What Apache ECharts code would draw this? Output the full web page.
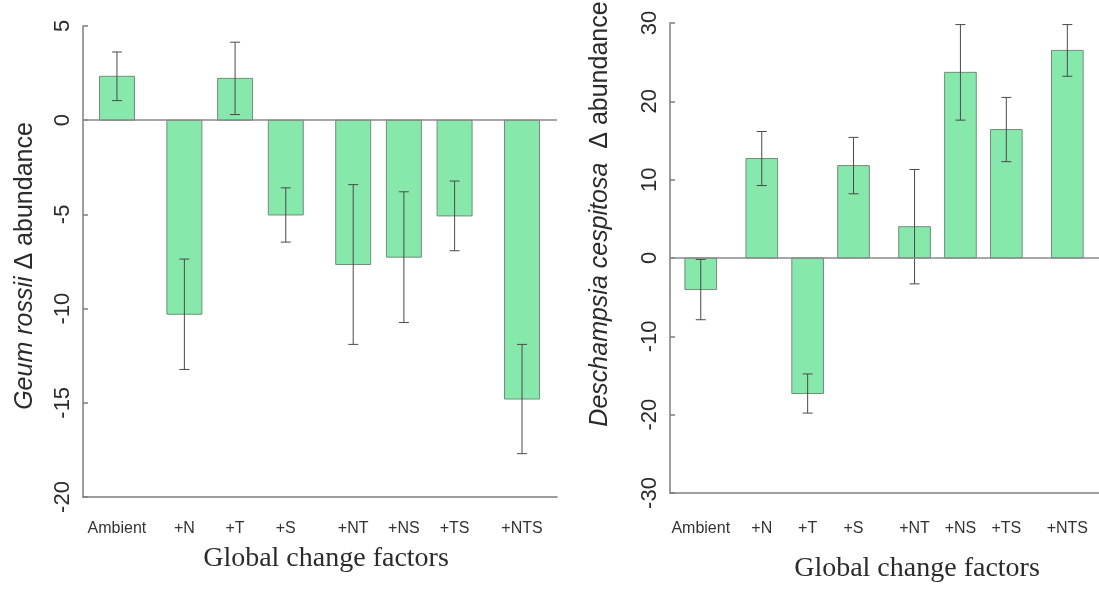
<!DOCTYPE html>
<html>
<head>
<meta charset="utf-8">
<script src="https://cdn.jsdelivr.net/npm/echarts@6/dist/echarts.min.js"></script>
<style>
  html, body { margin: 0; padding: 0; background: #fff; }
  #chart { width: 1099px; height: 590px; }
</style>
</head>
<body>
<div id="chart"></div>
<script>
// Treatments along the x axis
const categories = ['Ambient', '+N', '+T', '+S', '+NT', '+NS', '+TS', '+NTS'];
// Treatment group: control | single factor | two factors | three factors
const groupOf = [0, 1, 1, 1, 2, 2, 2, 3];

// Geum rossii: change in abundance (mean, standard error)
const geumMean = [2.33, -10.3, 2.22, -5.03, -7.66, -7.27, -5.08, -14.8];
const geumErr  = [1.29, 2.93, 1.92, 1.44, 4.24, 3.47, 1.85, 2.9];

// Deschampsia cespitosa: change in abundance (mean, standard error)
const deschMean = [-4.03, 12.7, -17.3, 11.8, 4.0, 23.7, 16.4, 26.5];
const deschErr  = [3.85, 3.45, 2.5, 3.6, 7.3, 6.1, 4.1, 3.3];

// y-axis ranges and tick steps
const geumAxis  = { min: -20, max: 5, interval: 5 };
const deschAxis = { min: -30, max: 30, interval: 10 };

const GROUP_GAP = 0.33;   // extra space between treatment groups (in bar pitches)
const BAR_WIDTH = 0.69;   // bar width (in bar pitches)
const FILL = '#86e8aa';
const FONT = 'Liberation Sans, Arial, sans-serif';
const TEXT = '#2b2b2b';

// bar position along the x axis: one pitch per bar plus gaps between groups
const positions = categories.map((c, i) => i + GROUP_GAP * groupOf[i]);

function rows(means, errs) {
  return means.map((m, i) => [i, positions[i], m, errs[i]]);
}

function renderBar(params, api) {
  const i = api.value(0);
  const x = api.value(1);
  const mean = api.value(2);
  const err = api.value(3);
  const base = api.coord([x, 0]);
  const top = api.coord([x, mean]);
  const hi = api.coord([x, mean + err]);
  const lo = api.coord([x, mean - err]);
  const hw = api.size([BAR_WIDTH, 0])[0] / 2;
  const cap = 5;
  const stroke = { stroke: '#4a4a4a', lineWidth: 1 };
  return {
    type: 'group',
    children: [
      {
        type: 'rect',
        shape: { x: base[0] - hw, y: Math.min(base[1], top[1]), width: hw * 2, height: Math.abs(top[1] - base[1]) },
        style: { fill: FILL, stroke: '#6f8f7a', lineWidth: 1 }
      },
      { type: 'line', shape: { x1: hi[0], y1: hi[1], x2: lo[0], y2: lo[1] }, style: stroke },
      { type: 'line', shape: { x1: hi[0] - cap, y1: hi[1], x2: hi[0] + cap, y2: hi[1] }, style: stroke },
      { type: 'line', shape: { x1: lo[0] - cap, y1: lo[1], x2: lo[0] + cap, y2: lo[1] }, style: stroke },
      {
        type: 'text',
        x: base[0],
        y: 529,
        style: { text: categories[i], fill: '#333', font: '16px ' + FONT, align: 'center', verticalAlign: 'middle' }
      }
    ]
  };
}

function xAxisFor(gridIndex) {
  return {
    type: 'value', gridIndex, min: -0.67, max: 8.68,
    axisLine: { show: true, onZero: false, lineStyle: { color: '#7d7d7d', width: 1.5 } },
    axisTick: { show: false }, axisLabel: { show: false }, splitLine: { show: false }
  };
}

function yAxisFor(gridIndex, range) {
  return {
    type: 'value', gridIndex, min: range.min, max: range.max, interval: range.interval,
    axisLine: { show: true, onZero: false, lineStyle: { color: '#7d7d7d', width: 1.5 } },
    axisTick: { show: true, inside: true, length: 5, lineStyle: { color: '#7d7d7d', width: 1.5 } },
    axisLabel: { rotate: 90, margin: 9, fontSize: 22, color: TEXT, fontFamily: FONT },
    splitLine: { show: false }
  };
}

function barSeries(index, means, errs) {
  return {
    type: 'custom', xAxisIndex: index, yAxisIndex: index,
    data: rows(means, errs), encode: { x: 1, y: 2 },
    renderItem: renderBar, clip: false, silent: true,
    markLine: {
      silent: true, symbol: ['none', 'none'], label: { show: false },
      lineStyle: { color: '#8a8a8a', width: 1.5, type: 'solid' },
      data: [{ yAxis: 0 }]
    }
  };
}

const chart = echarts.init(document.getElementById('chart'), null, { renderer: 'canvas' });
chart.setOption({
  animation: false,
  backgroundColor: '#fff',
  grid: [
    { left: 83, width: 474, top: 26, height: 471 },
    { left: 670, width: 440, top: 23, height: 470 }
  ],
  xAxis: [xAxisFor(0), xAxisFor(1)],
  yAxis: [yAxisFor(0, geumAxis), yAxisFor(1, deschAxis)],
  series: [barSeries(0, geumMean, geumErr), barSeries(1, deschMean, deschErr)],
  graphic: [
    {
      type: 'text', x: 25, y: 266, rotation: Math.PI / 2,
      style: {
        text: '{i|Geum rossii} Δ abundance', fill: TEXT, font: '25px ' + FONT,
        align: 'center', verticalAlign: 'middle',
        rich: { i: { fontStyle: 'italic', fontSize: 25, fontFamily: FONT, fill: TEXT } }
      }
    },
    {
      type: 'text', x: 600, y: 214, rotation: Math.PI / 2,
      style: {
        text: '{i|Deschampsia cespitosa}  Δ abundance', fill: TEXT, font: '25px ' + FONT,
        align: 'center', verticalAlign: 'middle',
        rich: { i: { fontStyle: 'italic', fontSize: 25, fontFamily: FONT, fill: TEXT } }
      }
    },
    {
      type: 'text', x: 326, y: 559,
      style: { text: 'Global change factors', fill: TEXT, font: '28px Liberation Serif, serif', align: 'center', verticalAlign: 'middle' }
    },
    {
      type: 'text', x: 917, y: 569,
      style: { text: 'Global change factors', fill: TEXT, font: '28px Liberation Serif, serif', align: 'center', verticalAlign: 'middle' }
    }
  ]
});
</script>
</body>
</html>
